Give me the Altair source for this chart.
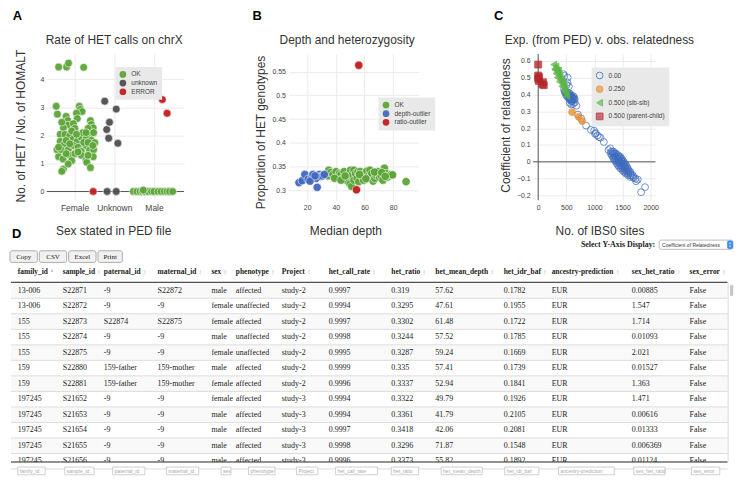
import altair as alt
import pandas as pd

SANS = "Liberation Sans"
SERIF = "Liberation Serif"

C_OK = "#5ca537"
C_UNK = "#4f4f4f"
C_ERR = "#c21d1d"
C_DEPTH = "#4268bf"
C_ORANGE = "#e8912d"
C_TRI = "#5cb646"
C_SQ = "#b3282d"
C_OPEN = "#3d6bbd"

# ---------------- Panel A : rate of HET calls on chrX ----------------
A_SEX_ORDER = ["Female", "Unknown", "Male"]
A_STATUS_ORDER = ["OK", "unknown", "ERROR"]
A_FEMALE_OK_JITTER = [-0.40, -0.20, -0.15, 0.23, -0.46, -0.43, 0.12, 0.15, 0.19, 0.05,
                      0.07, -0.21, -0.17, -0.16, -0.03, 0.01, 0.40, 0.42, 0.47, 0.34,
                      0.38, 0.48, -0.28, -0.36, -0.24, -0.12, -0.03, 0.07, 0.17, 0.29,
                      0.42, 0.51, -0.36, -0.26, -0.44, -0.34, -0.16, -0.03, 0.09, 0.17,
                      0.29, 0.38, 0.48, -0.40, -0.29, -0.12, 0.01, 0.17, 0.29, 0.47,
                      -0.28, -0.32, -0.07, -0.16, 0.31, 0.40, -0.40, -0.21, 0.23, 0.34,
                      -0.12, 0.46, 0.09, -0.21, 0.34, 0.21, -0.07, -0.32, 0.29, 0.05]
A_FEMALE_OK_RATIO = [4.44, 4.44, 4.58, 4.43, 3.04, 2.76, 3.04, 2.93, 2.85, 2.79,
                     2.60, 2.68, 2.53, 2.37, 2.42, 2.25, 2.53, 2.39, 2.27, 2.25,
                     2.04, 2.10, 2.27, 2.04, 2.04, 1.99, 1.87, 1.79, 1.93, 1.90,
                     1.83, 1.74, 1.79, 1.67, 1.49, 1.49, 1.49, 1.64, 1.58, 1.44,
                     1.64, 1.47, 1.49, 1.24, 1.16, 1.29, 1.35, 1.29, 1.12, 1.24,
                     0.80, 0.72, 1.10, 0.98, 1.04, 0.85, 1.58, 1.82, 1.75, 1.75,
                     1.70, 1.64, 1.41, 1.35, 1.29, 2.10, 2.16, 2.47, 2.10, 2.04]
A_MALE_OK_JITTER = [-0.52, -0.43, -0.35, -0.29, -0.23, -0.15, -0.06, 0.00, 0.10, 0.18,
                    0.26, 0.33, 0.39, 0.47, -0.27]
A_MALE_OK_RATIO = [0, 0, 0, 0, 0, 0, 0, 0, 0, 0, 0, 0, 0, 0, 0.05]
A_UNKNOWN_JITTER = [-0.24, -0.19, -0.12, 0.05, -0.14, 0.09, -0.18, 0.05]
A_UNKNOWN_RATIO = [3.22, 2.21, 2.47, 2.94, 1.90, 1.72, 0.0, 0.0]
A_ERROR_SEX = ["Female", "Male", "Male"]
A_ERROR_JITTER = [0.47, 0.21, 0.33]
A_ERROR_RATIO = [0.0, 3.28, 2.79]

# ---------------- Panel B : depth and heterozygosity ----------------
B_STATUS_ORDER = ["OK", "depth-outlier", "ratio-outlier"]
B_OK_DEPTH = [35.1, 34.6, 36.5, 38.0, 40.2, 41.3, 42.5, 43.6, 44.5, 45.8, 47.0, 48.1, 48.5,
              49.9, 50.3, 51.0, 51.5, 52.6, 52.6, 53.7, 54.8, 55.5, 56.0, 57.1, 58.0, 59.3,
              59.3, 60.5, 61.6, 62.7, 63.8, 64.5, 65.0, 66.0, 67.2, 68.0, 69.4, 70.5, 71.7,
              72.8, 73.9, 75.0, 76.0, 77.3, 78.5, 79.6, 39.1, 43.6, 46.5, 56.5, 61.0, 67.0,
              72.0, 74.5, 89.0]
B_OK_RATIO = [0.343, 0.331, 0.338, 0.334, 0.340, 0.329, 0.336, 0.334, 0.325, 0.340, 0.326,
              0.320, 0.333, 0.314, 0.343, 0.309, 0.334, 0.343, 0.322, 0.336, 0.326, 0.340,
              0.319, 0.340, 0.330, 0.333, 0.322, 0.337, 0.341, 0.331, 0.343, 0.328, 0.336,
              0.320, 0.326, 0.333, 0.340, 0.328, 0.331, 0.322, 0.347, 0.336, 0.328, 0.331,
              0.334, 0.333, 0.326, 0.322, 0.331, 0.334, 0.325, 0.339, 0.338, 0.330, 0.319]
B_DEPTH_OUT_DEPTH = [14.3, 16.6, 18.4, 20.7, 23.4, 24.0, 26.3, 27.0, 28.6, 29.5, 30.9, 32.0,
                     22.0, 25.5]
B_DEPTH_OUT_RATIO = [0.317, 0.321, 0.334, 0.324, 0.329, 0.334, 0.326, 0.307, 0.334, 0.330,
                     0.331, 0.334, 0.320, 0.331]
B_RATIO_OUT_DEPTH = [56.0, 54.4]
B_RATIO_OUT_RATIO = [0.563, 0.302]

# ---------------- Panel C : expected v. observed relatedness ----------------
C_LABELS = ["0.00", "0.250", "0.500 (sib-sib)", "0.500 (parent-child)"]
C_UNREL_IBS0 = [448, 466, 523, 546, 520, 505,
                470, 480, 490, 495, 505, 515, 520, 530, 535, 540, 545, 550, 560, 560,
                560, 570, 575, 580, 580, 585, 590, 595, 600, 600, 610, 610, 620, 625,
                630, 640, 650, 460, 560, 590,
                649, 678, 621, 707, 764, 851, 937, 994, 1011, 1023, 1052, 1080, 1109, 1167,
                1300, 1320, 1340, 1290, 1330, 1360, 1380, 1310, 1350, 1390, 1420,
                1330, 1370, 1410, 1440, 1460, 1340, 1380, 1420, 1450, 1480,
                1360, 1400, 1430, 1470, 1500, 1380, 1420, 1450, 1490, 1520,
                1400, 1440, 1470, 1510, 1540, 1420, 1460, 1500, 1530, 1560,
                1440, 1480, 1520, 1550, 1580, 1470, 1510, 1550, 1590,
                1500, 1540, 1580, 1610, 1530, 1570, 1610, 1640, 1560, 1600, 1640,
                1600, 1650, 1680, 1640, 1690,
                1250, 1280, 1730, 1740, 1770, 1830, 1900, 1700]
C_UNREL_REL = [0.52, 0.51, 0.50, 0.448, 0.47, 0.455,
               0.415, 0.42, 0.41, 0.395, 0.405, 0.39, 0.40, 0.41, 0.38, 0.395, 0.385, 0.40,
               0.39, 0.405, 0.37, 0.385, 0.375, 0.39, 0.365, 0.395, 0.38, 0.36, 0.385, 0.37,
               0.375, 0.36, 0.38, 0.39, 0.37, 0.38, 0.37, 0.43, 0.35, 0.34,
               0.352, 0.333, 0.343, 0.28, 0.257, 0.215, 0.19, 0.185, 0.166, 0.171, 0.156,
               0.147, 0.143, 0.118,
               0.06, 0.06, 0.06, 0.05, 0.05, 0.05, 0.05, 0.04, 0.04, 0.04, 0.04,
               0.03, 0.03, 0.03, 0.03, 0.03, 0.02, 0.02, 0.02, 0.02, 0.02,
               0.01, 0.01, 0.01, 0.01, 0.01, 0.0, 0.0, 0.0, 0.0, 0.0,
               -0.01, -0.01, -0.01, -0.01, -0.01, -0.02, -0.02, -0.02, -0.02, -0.02,
               -0.03, -0.03, -0.03, -0.03, -0.03, -0.04, -0.04, -0.04, -0.04,
               -0.05, -0.05, -0.05, -0.05, -0.06, -0.06, -0.06, -0.06, -0.07, -0.07, -0.07,
               -0.08, -0.08, -0.08, -0.09, -0.09,
               0.07, 0.08, -0.10, -0.115, -0.105, -0.18, -0.15, -0.095]
C_HALF_IBS0 = [603, 718, 782]
C_HALF_REL = [0.295, 0.267, 0.242]
C_SIB_IBS0 = [276, 316, 293, 333, 351, 374, 316, 391, 408, 431, 448, 374, 477, 460, 494,
              506, 420, 362, 340, 300]
C_SIB_REL = [0.577, 0.566, 0.552, 0.543, 0.528, 0.514, 0.524, 0.499, 0.486, 0.470, 0.457,
             0.476, 0.438, 0.419, 0.406, 0.390, 0.448, 0.543, 0.500, 0.545]
C_PC_IBS0 = [0, 0, 17, 0, 10, 85, 100, 70]
C_PC_REL = [0.577, 0.512, 0.503, 0.493, 0.480, 0.472, 0.455, 0.46]

# ---------------- Panel D : sample table ----------------
T_COLS = ["family_id", "sample_id", "paternal_id", "maternal_id", "sex", "phenotype",
          "Project", "het_call_rate", "het_ratio", "het_mean_depth", "het_idr_baf",
          "ancestry-prediction", "sex_het_ratio", "sex_error"]
T_FAMILY = ["13-006", "13-006", "155", "155", "155", "159", "159", "197245", "197245",
            "197245", "197245", "197245"]
T_SAMPLE = ["S22871", "S22872", "S22873", "S22874", "S22875", "S22880", "S22881", "S21652",
            "S21653", "S21654", "S21655", "S21656"]
T_PATERNAL = ["-9", "-9", "S22874", "-9", "-9", "159-father", "159-father", "-9", "-9",
              "-9", "-9", "-9"]
T_MATERNAL = ["S22872", "-9", "S22875", "-9", "-9", "159-mother", "159-mother", "-9", "-9",
              "-9", "-9", "-9"]
T_SEX = ["male", "female", "female", "male", "female", "male", "female", "female", "male",
         "male", "male", "male"]
T_PHENO = ["affected", "unaffected", "affected", "unaffected", "unaffected", "affected",
           "affected", "affected", "affected", "affected", "affected", "affected"]
T_PROJECT = ["study-2"] * 7 + ["study-3"] * 5
T_CALL = ["0.9997", "0.9994", "0.9997", "0.9998", "0.9995", "0.9999", "0.9996", "0.9994",
          "0.9994", "0.9997", "0.9998", "0.9996"]
T_RATIO = ["0.319", "0.3295", "0.3302", "0.3244", "0.3287", "0.335", "0.3337", "0.3322",
           "0.3361", "0.3418", "0.3296", "0.3373"]
T_DEPTH = ["57.62", "47.61", "61.48", "57.52", "59.24", "57.41", "52.94", "49.79", "41.79",
           "42.06", "71.87", "55.82"]
T_BAF = ["0.1782", "0.1955", "0.1722", "0.1785", "0.1669", "0.1739", "0.1841", "0.1926",
         "0.2105", "0.2081", "0.1548", "0.1892"]
T_ANC = ["EUR"] * 12
T_SEXHET = ["0.00885", "1.547", "1.714", "0.01093", "2.021", "0.01527", "1.363", "1.471",
            "0.00616", "0.01333", "0.006369", "0.01124"]
T_SEXERR = ["False"] * 12
T_BUTTONS = ["Copy", "CSV", "Excel", "Print"]

# ---------------- table layout (reference pixel grid) ----------------
COL_X = [10, 56, 98, 153, 208, 233, 280, 328, 392, 437, 507, 556, 638, 697]
BOX_X0 = [10, 58, 107, 162, 218, 246, 295, 335, 392, 443, 508, 563, 640, 699]
BOX_X1 = [38, 88, 140, 195, 228, 273, 317, 378, 420, 485, 543, 620, 672, 728]
BTN_X0 = [2, 32, 62, 92]
BTN_X1 = [30, 60, 90, 117]
ROW0, ROWH = 283, 16
HEAD_SIZE = 7.5
SCALE_X = 0.983   # page pixels per reference pixel

# approximate Times-Bold advance widths (em) to place the sort icons after each header
_TB = {"a": .5, "b": .556, "c": .444, "d": .556, "e": .444, "f": .333, "g": .5, "h": .556,
       "i": .278, "j": .333, "k": .556, "l": .278, "m": .833, "n": .556, "o": .5, "p": .556,
       "q": .556, "r": .444, "s": .389, "t": .333, "u": .556, "v": .5, "w": .722, "x": .5,
       "y": .5, "z": .444, "_": .5, "-": .333, "P": .611}
ICON_X = [x + sum(_TB.get(ch, .5) for ch in name) * HEAD_SIZE / SCALE_X + 4
          for x, name in zip(COL_X, T_COLS)]

# ================= charts =================
AX = dict(grid=True, gridColor="#ebebeb", gridWidth=1, domain=False, ticks=False,
          labelFont=SANS, labelColor="#444", labelPadding=3, labelFontSize=7,
          labelOverlap=False,
          titleFont=SANS, titleFontSize=12, titleFontWeight="normal", titleColor="#333",
          titleBaseline="alphabetic")
LEG = dict(title=None, orient="none", fillColor="#e9e9e9", padding=4, labelFont=SANS,
           labelFontSize=6.5, labelColor="#444", symbolSize=45, rowPadding=1.7,
           labelOffset=5, symbolStrokeWidth=0)

# plot rectangles (page pixels): A 45..183, B 288..419, C 534..657 ; top 51
PW_A, PW_B, PW_C, PH = 138, 131, 123, 147
GAP_AB, GAP_BC = 105, 115


def txt(text, x, y, size=12, weight="normal", color="#333", align="center", font=SANS):
    return alt.Chart(pd.DataFrame({"t": [text]})).mark_text(
        align=align, baseline="alphabetic", font=font, fontSize=size,
        fontWeight=weight, color=color).encode(text="t:N", x=alt.value(x), y=alt.value(y))


# ---- A
a_df = pd.concat([
    pd.DataFrame({"sex": "Female", "jitter": A_FEMALE_OK_JITTER, "ratio": A_FEMALE_OK_RATIO, "a_status": "OK"}),
    pd.DataFrame({"sex": "Male", "jitter": A_MALE_OK_JITTER, "ratio": A_MALE_OK_RATIO, "a_status": "OK"}),
    pd.DataFrame({"sex": "Unknown", "jitter": A_UNKNOWN_JITTER, "ratio": A_UNKNOWN_RATIO, "a_status": "unknown"}),
    pd.DataFrame({"sex": A_ERROR_SEX, "jitter": A_ERROR_JITTER, "ratio": A_ERROR_RATIO, "a_status": "ERROR"}),
], ignore_index=True)
A_XS = alt.Scale(domain=[-0.698, 2.756], nice=False, zero=False)
A_YS = alt.Scale(domain=[-0.312, 4.904], nice=False, zero=False)
A_XAX = alt.Axis(values=[0, 1, 2], labelExpr="['Female','Unknown','Male'][datum.value]",
                 title="Sex stated in PED file", titleX=66.7, titleY=34,
                 **{**AX, "labelFontSize": 8.5})
A_YAX = alt.Axis(values=[0, 1, 2, 3, 4], format="d", title="No. of HET / No. of HOMALT",
                 titleX=-22.7, titleY=72, titleAngle=270, **AX)
a_points = alt.Chart(a_df).transform_calculate(
    xpos="indexof(['Female','Unknown','Male'], datum.sex) + datum.jitter"
).mark_circle(size=62, opacity=0.95, stroke="white", strokeWidth=0.6).encode(
    x=alt.X("xpos:Q", scale=A_XS, axis=A_XAX),
    y=alt.Y("ratio:Q", scale=A_YS, axis=A_YAX),
    color=alt.Color("a_status:N", scale=alt.Scale(domain=A_STATUS_ORDER, range=[C_OK, C_UNK, C_ERR]),
                    legend=alt.Legend(legendX=69, legendY=13, symbolType="circle", **LEG)),
)
a_zero = alt.Chart(pd.DataFrame({"z": [0]})).mark_rule(color="#555", strokeWidth=1).encode(
    y=alt.Y(datum=0, scale=A_YS, axis=A_YAX))
chart_a = alt.layer(
    a_zero, a_points,
    txt("Rate of HET calls on chrX", 67.7, -9.8),
    txt("A", -34.1, -34.2, size=13, weight="bold", color="#000", align="left"),
).properties(width=PW_A, height=PH)

# ---- B
b_df = pd.concat([
    pd.DataFrame({"depth": B_OK_DEPTH, "ratio": B_OK_RATIO, "b_status": "OK"}),
    pd.DataFrame({"depth": B_DEPTH_OUT_DEPTH, "ratio": B_DEPTH_OUT_RATIO, "b_status": "depth-outlier"}),
    pd.DataFrame({"depth": B_RATIO_OUT_DEPTH, "ratio": B_RATIO_OUT_RATIO, "b_status": "ratio-outlier"}),
], ignore_index=True)
b_points = alt.Chart(b_df).mark_circle(size=70, opacity=0.95, stroke="white", strokeWidth=0.6).encode(
    x=alt.X("depth:Q", scale=alt.Scale(domain=[6.96, 97.83], nice=False, zero=False), axis=alt.Axis(
        values=[20, 40, 60, 80], format="d", title="Median depth", titleX=57.2, titleY=34, **AX)),
    y=alt.Y("ratio:Q", scale=alt.Scale(domain=[0.28, 0.5865], nice=False, zero=False), axis=alt.Axis(
        values=[0.3, 0.35, 0.4, 0.45, 0.5, 0.55], format=".2~f", title="Proportion of HET genotypes",
        titleX=-24.4, titleY=78.4, titleAngle=270, **AX)),
    color=alt.Color("b_status:N", scale=alt.Scale(domain=B_STATUS_ORDER, range=[C_OK, C_DEPTH, C_ERR]),
                    legend=alt.Legend(legendX=90.6, legendY=43.8, symbolType="circle", **LEG)),
)
chart_b = alt.layer(
    b_points,
    txt("Depth and heterozygosity", 59, -9.8),
    txt("B", -36.2, -34.2, size=13, weight="bold", color="#000", align="left"),
).properties(width=PW_B, height=PH)

# ---- C
c_df = pd.concat([
    pd.DataFrame({"ibs0": C_UNREL_IBS0, "rel": C_UNREL_REL, "exp": C_LABELS[0]}),
    pd.DataFrame({"ibs0": C_HALF_IBS0, "rel": C_HALF_REL, "exp": C_LABELS[1]}),
    pd.DataFrame({"ibs0": C_SIB_IBS0, "rel": C_SIB_REL, "exp": C_LABELS[2]}),
    pd.DataFrame({"ibs0": C_PC_IBS0, "rel": C_PC_REL, "exp": C_LABELS[3]}),
], ignore_index=True)
C_XS = alt.Scale(domain=[-90.2, 2085], nice=False, zero=False)
C_YS = alt.Scale(domain=[-0.2277, 0.6395], nice=False, zero=False)
C_XAX = alt.Axis(values=[0, 500, 1000, 1500, 2000], format="d", title="No. of IBS0 sites",
                 titleX=66.7, titleY=34, **AX)
C_YAX = alt.Axis(values=[-0.2, -0.1, 0, 0.1, 0.2, 0.3, 0.4, 0.5, 0.6], format=".1~f",
                 title="Coefficient of relatedness", titleX=-23.7, titleY=71.4, titleAngle=270, **AX)
LEG_C = alt.Legend(legendX=58.9, legendY=13.6, **{**LEG, "symbolStrokeWidth": 1})
c_points = alt.Chart(c_df).mark_point(size=48, opacity=0.8, strokeWidth=0.9, filled=False).encode(
    x=alt.X("ibs0:Q", scale=C_XS, axis=C_XAX),
    y=alt.Y("rel:Q", scale=C_YS, axis=C_YAX),
    stroke=alt.Stroke("exp:N", scale=alt.Scale(domain=C_LABELS, range=[C_OPEN, C_ORANGE, C_TRI, C_SQ]), legend=LEG_C),
    fill=alt.Fill("exp:N", scale=alt.Scale(domain=C_LABELS, range=["transparent", C_ORANGE, C_TRI, C_SQ]), legend=LEG_C),
    shape=alt.Shape("exp:N", scale=alt.Scale(domain=C_LABELS, range=["circle", "circle", "triangle-left", "square"]), legend=LEG_C),
)
c_hzero = alt.Chart(pd.DataFrame({"z": [0]})).mark_rule(color="#555", strokeWidth=1).encode(
    y=alt.Y(datum=0, scale=C_YS, axis=C_YAX))
c_vzero = alt.Chart(pd.DataFrame({"z": [0]})).mark_rule(color="#555", strokeWidth=1).encode(
    x=alt.X(datum=0, scale=C_XS, axis=C_XAX))
chart_c = alt.layer(
    c_hzero, c_vzero, c_points,
    txt("Exp. (from PED) v. obs. relatedness", 66.7, -9.8),
    txt("C", -39.4, -34.2, size=13, weight="bold", color="#000", align="left"),
).properties(width=PW_C, height=PH)

# ---- D table
TW, TH = 688, 180
TXS = alt.Scale(domain=[39.64, 739.5], nice=False, zero=False)
TYS = alt.Scale(domain=[283, 467.6], nice=False, zero=False, reverse=True)


def TX(f):
    return alt.X(f, type="quantitative", scale=TXS, axis=None)


def TY(f):
    return alt.Y(f, type="quantitative", scale=TYS, axis=None)


columns = [T_FAMILY, T_SAMPLE, T_PATERNAL, T_MATERNAL, T_SEX, T_PHENO, T_PROJECT, T_CALL,
           T_RATIO, T_DEPTH, T_BAF, T_ANC, T_SEXHET, T_SEXERR]
n_rows = len(T_FAMILY)
cells = pd.DataFrame([
    {"row": i, "col": T_COLS[j], "text": columns[j][i], "x": COL_X[j], "y": ROW0 + 8 + ROWH * i}
    for i in range(n_rows) for j in range(len(T_COLS))
])
rows_df = pd.DataFrame({"row": list(range(n_rows))})
rows_df["y"] = ROW0 + ROWH * rows_df["row"]
rows_df["y2"] = rows_df["y"] + ROWH
rows_df["x"] = 3
rows_df["x2"] = 736
head_df = pd.DataFrame({"text": T_COLS, "x": COL_X, "y": 272})
icon_df = pd.DataFrame({"x": ICON_X, "col": T_COLS})
box_df = pd.DataFrame({"text": T_COLS, "x": BOX_X0, "x2": BOX_X1, "y": 473, "y2": 481})
btn_df = pd.DataFrame({"text": T_BUTTONS, "x": BTN_X0, "x2": BTN_X1, "y": 250, "y2": 262})
btn_df["xc"] = (btn_df["x"] + btn_df["x2"]) / 2


def one(**kw):
    return pd.DataFrame({k: [v] for k, v in kw.items()})


row_bg = alt.Chart(rows_df).mark_rect().encode(
    x=TX("x"), x2="x2", y=TY("y"), y2="y2",
    color=alt.condition("datum.row % 2 == 0", alt.value("#f9f9f9"), alt.value("#ffffff")))
row_sep = alt.Chart(rows_df).mark_rule(color="#dddddd", strokeWidth=1).encode(
    x=TX("x"), x2="x2", y=TY("y2"))
body = alt.Chart(cells).mark_text(align="left", baseline="middle", font=SERIF, fontSize=8,
                                  color="#222").encode(x=TX("x"), y=TY("y"), text="text:N")
cover = alt.Chart(one(x=0, x2=745, y=467.8, y2=472)).mark_rect(color="white").encode(
    x=TX("x"), x2="x2", y=TY("y"), y2="y2")
lines = alt.Chart(pd.DataFrame({"x": [3, 3], "x2": [736, 736], "y": [282.5, 467.8]})).mark_rule(
    color="#222", strokeWidth=1).encode(x=TX("x"), x2="x2", y=TY("y"))
vline = alt.Chart(one(x=736.5, y=282.5, y2=467.8)).mark_rule(color="#dddddd", strokeWidth=1).encode(
    x=TX("x"), y=TY("y"), y2="y2")
header = alt.Chart(head_df).mark_text(align="left", baseline="middle", font=SERIF,
                                      fontSize=HEAD_SIZE, fontWeight="bold", color="#222").encode(
    x=TX("x"), y=TY("y"), text="text:N")
icon_up = alt.Chart(icon_df).transform_calculate(y="270.4").mark_point(
    shape="triangle-up", size=7, filled=True).encode(
    x=TX("x"), y=TY("y:Q"),
    color=alt.condition("datum.col == 'family_id'", alt.value("#7f8fc9"), alt.value("#cfcfcf")))
icon_dn = alt.Chart(icon_df).transform_filter("datum.col != 'family_id'").transform_calculate(
    y="273.6").mark_point(shape="triangle-down", size=7, filled=True, color="#cfcfcf").encode(
    x=TX("x"), y=TY("y:Q"))
boxes = alt.Chart(box_df).mark_rect(fill="white", stroke="#c4c4c4", strokeWidth=0.8).encode(
    x=TX("x"), x2="x2", y=TY("y"), y2="y2")
box_txt = alt.Chart(box_df).transform_calculate(tx="datum.x + 2", ty="477.3").mark_text(
    align="left", baseline="middle", font=SANS, fontSize=5, color="#aaaaaa").encode(
    x=TX("tx:Q"), y=TY("ty:Q"), text="text:N")
buttons = alt.Chart(btn_df).mark_rect(fill="#f1f1f1", stroke="#9a9a9a", strokeWidth=0.8,
                                      cornerRadius=2).encode(x=TX("x"), x2="x2", y=TY("y"), y2="y2")
btn_txt = alt.Chart(btn_df).transform_calculate(ty="256.3").mark_text(
    align="center", baseline="middle", font=SERIF, fontSize=7, color="#222").encode(
    x=TX("xc:Q"), y=TY("ty:Q"), text="text:N")
sel_lbl = alt.Chart(one(t="Select Y-Axis Display:", x=662, y=243.6)).mark_text(
    align="right", baseline="middle", font=SERIF, fontSize=8, fontWeight="bold", color="#222").encode(
    x=TX("x:Q"), y=TY("y:Q"), text="t:N")
dd_box = alt.Chart(one(x=666, x2=741.5, y=239, y2=248.5)).mark_rect(
    fill="white", stroke="#aaaaaa", strokeWidth=0.8, cornerRadius=2).encode(
    x=TX("x"), x2="x2", y=TY("y"), y2="y2")
dd_arrow = alt.Chart(one(x=735.5, x2=741.5, y=239.3, y2=248.2)).mark_rect(
    fill="#3d8ef5", cornerRadius=2).encode(x=TX("x"), x2="x2", y=TY("y"), y2="y2")
dd_txt = alt.Chart(one(t="Coefficient of Relatedness", x=669, y=243.8)).mark_text(
    align="left", baseline="middle", font=SANS, fontSize=5, color="#333").encode(
    x=TX("x:Q"), y=TY("y:Q"), text="t:N")
dd_tri = alt.Chart(pd.DataFrame({"x": [738.5, 738.5], "y": [242, 245.5],
                                 "s": ["triangle-up", "triangle-down"]})).mark_point(
    size=5, filled=True, color="white").encode(
    x=TX("x"), y=TY("y"), shape=alt.Shape("s:N", scale=None))
scroll = alt.Chart(one(x=738.5, x2=741.8, y=285, y2=297)).mark_rect(
    fill="#c6c6c6", cornerRadius=1.5).encode(x=TX("x"), x2="x2", y=TY("y"), y2="y2")
d_lbl = alt.Chart(one(t="D", x=4, y=237)).mark_text(
    align="left", baseline="alphabetic", font=SANS, fontSize=13, fontWeight="bold", color="#000").encode(
    x=TX("x:Q"), y=TY("y:Q"), text="t:N")

table = alt.layer(
    row_bg, row_sep, body, cover, lines, vline, header, icon_up, icon_dn, boxes, box_txt,
    buttons, btn_txt, sel_lbl, dd_box, dd_arrow, dd_txt, dd_tri, scroll, d_lbl
).properties(width=TW, height=TH)

RES = dict(color="independent", shape="independent", stroke="independent", fill="independent")
inner = alt.hconcat(chart_b, chart_c, spacing=GAP_BC, bounds="flush").resolve_scale(**RES)
top = alt.hconcat(chart_a, inner, spacing=GAP_AB, bounds="flush").resolve_scale(**RES)
# with flush bounds the nested top row contributes no height, so the spacing is the
# full offset from the top plots' upper edge to the table body
chart = alt.vconcat(top, table, spacing=PH + 83, bounds="flush").properties(
    padding={"left": 0, "right": 0, "top": 0, "bottom": 0}
).configure_view(strokeWidth=0).configure_axis(labelOverlap=False).resolve_scale(**RES)

chart.save("out.html", embed_options={"renderer": "svg", "actions": False})
